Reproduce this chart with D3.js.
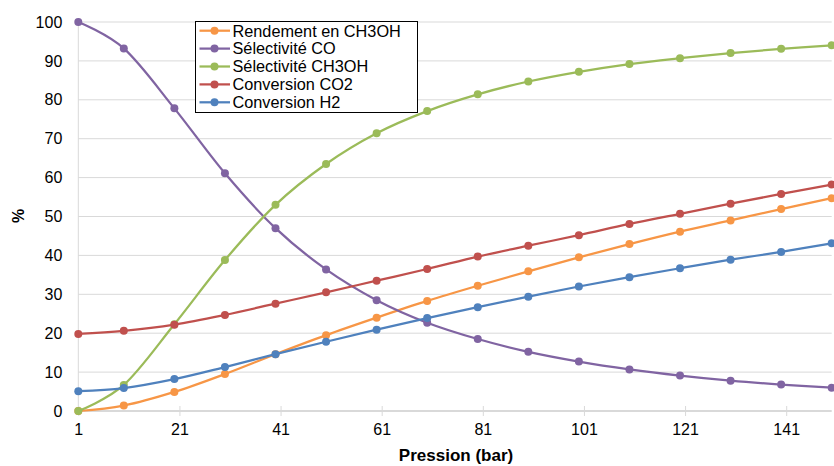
<!DOCTYPE html>
<html>
<head>
<meta charset="utf-8">
<script src="https://cdn.jsdelivr.net/npm/d3@7"></script>
<style>
  html, body { margin: 0; padding: 0; background: #fff; }
  svg { display: block; font-family: "Liberation Sans", Arial, sans-serif; }
</style>
</head>
<body>
<svg id="chart" width="834" height="466"></svg>
<script>
const pressions = [1, 10, 20, 30, 40, 50, 60, 70, 80, 90, 100, 110, 120, 130, 140, 150];
const rendementCH3OH = [0, 1.4, 4.9, 9.5, 14.6, 19.5, 24.0, 28.3, 32.2, 35.9, 39.5, 42.9, 46.1, 49.0, 51.9, 54.7];
const selectiviteCO = [100, 93.2, 77.8, 61.1, 47.0, 36.4, 28.5, 22.7, 18.5, 15.2, 12.7, 10.7, 9.1, 7.8, 6.8, 6.0];
const selectiviteCH3OH = [0, 6.7, 22.3, 38.8, 53.0, 63.5, 71.4, 77.1, 81.4, 84.7, 87.2, 89.2, 90.7, 92.0, 93.1, 94.0];
const conversionCO2 = [19.8, 20.6, 22.2, 24.7, 27.6, 30.5, 33.5, 36.5, 39.7, 42.5, 45.2, 48.1, 50.7, 53.3, 55.8, 58.2];
const conversionH2 = [5.1, 5.9, 8.2, 11.3, 14.6, 17.8, 20.9, 23.9, 26.7, 29.4, 32.0, 34.4, 36.7, 38.9, 40.9, 43.1];
const seriesNames = ["Rendement en CH3OH", "Sélectivité CO", "Sélectivité CH3OH", "Conversion CO2", "Conversion H2"];
const seriesColors = ["#F79646", "#8064A2", "#9BBB59", "#C0504D", "#4F81BD"];
const xTicks = [1, 21, 41, 61, 81, 101, 121, 141];
const yTicks = [0, 10, 20, 30, 40, 50, 60, 70, 80, 90, 100];
const xTitle = "Pression (bar)";
const yTitle = "%";

const seriesValues = [rendementCH3OH, selectiviteCO, selectiviteCH3OH, conversionCO2, conversionH2];

const svg = d3.select("#chart");
const plotLeft = 78.3, plotRight = 831.7, plotTop = 22, plotBottom = 411;

const x = d3.scaleLinear().domain([1, 150]).range([plotLeft, plotRight]);
const y = d3.scaleLinear().domain([0, 100]).range([plotBottom, plotTop]);

// gridlines
svg.append("g").selectAll("line").data(yTicks.filter(d => d > 0)).join("line")
  .attr("x1", plotLeft).attr("x2", plotRight)
  .attr("y1", d => y(d)).attr("y2", d => y(d))
  .attr("stroke", "#d9d9d9").attr("stroke-width", 1);

// y axis line
svg.append("line").attr("x1", plotLeft).attr("x2", plotLeft).attr("y1", plotTop).attr("y2", plotBottom)
  .attr("stroke", "#d9d9d9").attr("stroke-width", 1);

// y tick labels
const yAxis = d3.axisLeft(y).tickValues(yTicks).tickSize(0).tickPadding(16);
const gy = svg.append("g").attr("transform", `translate(${plotLeft},0)`).call(yAxis);
gy.select(".domain").remove();
gy.selectAll("text").attr("font-size", 16).attr("fill", "#000")
  .attr("font-family", '"Liberation Sans", Arial, sans-serif');

// x axis
const xAxis = d3.axisBottom(x).tickValues(xTicks).tickSize(5).tickPadding(8).tickSizeOuter(0);
const gx = svg.append("g").attr("transform", `translate(0,${plotBottom})`).call(xAxis);
gx.select(".domain").attr("stroke", "#d9d9d9").attr("stroke-width", 2)
  .attr("d", `M${plotLeft},0H${plotRight}`);
gx.selectAll(".tick line").attr("stroke", "#d9d9d9").attr("y1", -5).attr("y2", 5);
gx.selectAll("text").attr("font-size", 16).attr("fill", "#000")
  .attr("font-family", '"Liberation Sans", Arial, sans-serif');

// axis titles
svg.append("text").attr("x", 456).attr("y", 461).attr("text-anchor", "middle")
  .attr("font-size", 17).attr("font-weight", "bold").text(xTitle);
svg.append("text").attr("transform", "translate(24,216) rotate(-90)")
  .attr("text-anchor", "middle").attr("font-size", 16).attr("font-weight", "bold").text(yTitle);

// lines
const line = d3.line().x((d, i) => x(pressions[i])).y(d => y(d)).curve(d3.curveCatmullRom.alpha(0));
seriesValues.forEach((vals, s) => {
  const g = svg.append("g");
  g.append("path").datum(vals).attr("d", line).attr("fill", "none")
    .attr("stroke", seriesColors[s]).attr("stroke-width", 2.25);
  g.selectAll("circle").data(vals).join("circle")
    .attr("cx", (d, i) => x(pressions[i])).attr("cy", d => y(d)).attr("r", 4)
    .attr("fill", seriesColors[s]);
});

// legend
const lg = svg.append("g");
lg.append("rect").attr("x", 195.5).attr("y", 21.5).attr("width", 222).attr("height", 91)
  .attr("fill", "#fff").attr("stroke", "#000").attr("stroke-width", 1);
seriesNames.forEach((name, i) => {
  const cy = 30.7 + i * 17.9;
  lg.append("line").attr("x1", 199.5).attr("x2", 230).attr("y1", cy).attr("y2", cy)
    .attr("stroke", seriesColors[i]).attr("stroke-width", 2.25);
  lg.append("circle").attr("cx", 214.5).attr("cy", cy).attr("r", 4).attr("fill", seriesColors[i]);
  lg.append("text").attr("x", 232.5).attr("y", cy + 5.8).attr("font-size", 16.3).attr("fill", "#000").text(name);
});
</script>
</body>
</html>
